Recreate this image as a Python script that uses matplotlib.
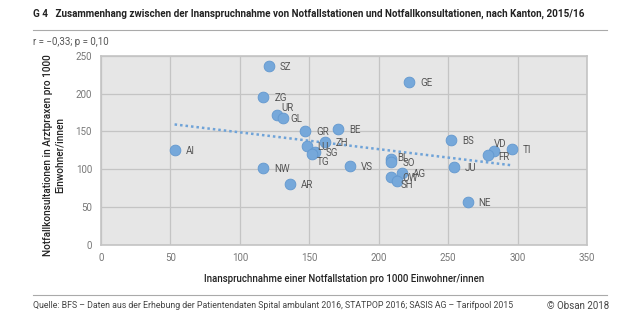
import numpy as np
import matplotlib
matplotlib.use("Agg")
from matplotlib import pyplot as plt

plt.rcParams['font.family'] = ['Roboto', 'DejaVu Sans']

# Kantone: Inanspruchnahme Notfallstation (x) / Notfallkonsultationen Arztpraxen (y)
cantons = ['SZ', 'ZG', 'UR', 'GL', 'GR', 'AI', 'LU', 'SG', 'TG', 'ZH', 'NW', 'AR', 'BE',
           'GE', 'VS', 'BL', 'SO', 'AG', 'OW', 'SH', 'BS', 'JU', 'NE', 'VD', 'FR', 'TI']
x_vals = [121, 117, 127, 131, 147, 53, 148, 154, 152, 161, 117, 136, 171,
          222, 179, 209, 209, 217, 209, 213, 252, 254, 264, 283, 279, 296]
y_vals = [237, 196, 171, 167, 151, 125, 130, 123, 120, 136, 102, 80, 153,
          215, 104, 113, 110, 95, 90, 84, 139, 103, 56, 124, 119, 127]

# label offsets in pixels (dx, dy)
label_offsets = {'UR': (4, 7), 'GL': (7, -1), 'TG': (5, -8), 'BL': (6, 1),
                 'SH': (4, -4), 'VD': (0, 7), 'FR': (10, -2)}

title = "G 4   Zusammenhang zwischen der Inanspruchnahme von Notfallstationen und Notfallkonsultationen, nach Kanton, 2015/16"
subtitle = "r = \u22120,33; p = 0,10"
xlabel = "Inanspruchnahme einer Notfallstation pro 1000 Einwohner/innen"
ylabel = "Notfallkonsultationen in Arztpraxen pro 1000\nEinwohner/innen"
source = "Quelle: BFS \u2013 Daten aus der Erhebung der Patientendaten Spital ambulant 2016, STATPOP 2016; SASIS AG \u2013 Tarifpool 2015"
copyright_txt = "\u00a9 Obsan 2018"

W, H = 640, 325
left_m, right_m = 33, 607

fig = plt.figure(figsize=(6.4, 3.25), dpi=100)
ax = fig.add_axes([101 / W, 1 - 244.7 / H, 486 / W, 189 / H])
ax.set_facecolor('#e6e6e6')

ax.set_xlim(0, 350)
ax.set_ylim(0, 250)
ax.set_xticks(range(0, 351, 50))
ax.set_yticks(range(0, 251, 50))
ax.grid(True, color='#c4c4c4', linewidth=0.9)
ax.set_axisbelow(True)
for sp in ax.spines.values():
    sp.set_color('#c4c4c4')
    sp.set_linewidth(1.2)
ax.tick_params(length=0, labelsize=7, colors='#777777')
ax.tick_params(axis='x', pad=6)
ax.tick_params(axis='y', pad=6.5)

# trend line
xs = np.array(x_vals)
ys = np.array(y_vals)
m, b = np.polyfit(xs, ys, 1)
tx = np.array([xs.min(), xs.max()])
ax.plot(tx, m * tx + b, color='#6fa3d8', linestyle=(0, (1, 1.2)), linewidth=1.8, zorder=2)

ax.scatter(x_vals, y_vals, s=60, color='#76a8da', edgecolor='#6298cf', linewidth=0.6, zorder=3)

for name, x, y in zip(cantons, x_vals, y_vals):
    dx, dy = label_offsets.get(name, (11, -1))
    ax.annotate(name, (x, y), xytext=(dx, dy), textcoords='offset pixels',
                ha='left', va='center', fontsize=7, color='#555555', zorder=4)

ax.set_xlabel(xlabel, fontsize=6.9, fontweight='medium', color='#222222', labelpad=8)
ax.set_ylabel(ylabel, fontsize=7.2, fontweight='medium', color='#222222')
ax.yaxis.set_label_coords(-0.074, 0.475)

fig.text(left_m / W, 1 - 14 / H, title, fontsize=7.1, fontweight='bold', color='#222222',
         va='center', ha='left')
fig.add_artist(plt.Line2D([left_m / W, right_m / W], [1 - 30 / H] * 2, color='#aaaaaa', linewidth=0.8))
fig.text(left_m / W, 1 - 42 / H, subtitle, fontsize=7, color='#555555', va='center', ha='left')
fig.add_artist(plt.Line2D([left_m / W, right_m / W], [1 - 295 / H] * 2, color='#aaaaaa', linewidth=0.8))
fig.text(left_m / W, 1 - 306 / H, source, fontsize=6.3, color='#444444', va='center', ha='left')
fig.text((right_m + 2) / W, 1 - 306 / H, copyright_txt, fontsize=7, color='#444444', va='center', ha='right')

fig.savefig('out.png', dpi=100)
